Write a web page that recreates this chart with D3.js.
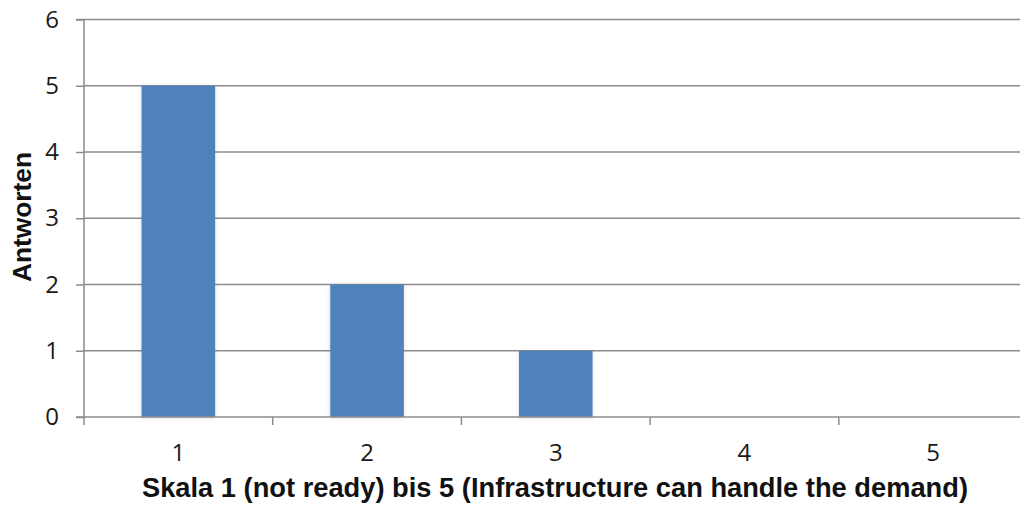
<!DOCTYPE html>
<html>
<head>
<meta charset="utf-8">
<script src="https://cdn.jsdelivr.net/npm/d3@7"></script>
<style>
  body { margin: 0; background: #fff; }
  svg { display: block; }
</style>
</head>
<body>
<div id="chart"></div>
<script>
const categories = ['1', '2', '3', '4', '5'];
const answers = [5, 2, 1, 0, 0];
const yTicks = [0, 1, 2, 3, 4, 5, 6];

const width = 1020, height = 510;
const margin = { left: 84, top: 19.5, right: -7.5, bottom: 93 };
const innerW = width - margin.left - margin.right;
const innerH = height - margin.top - margin.bottom;

const axisColor = '#8c8c8c';
const labelFont = '"Open Sans", "Noto Sans", sans-serif';
const titleFont = '"Liberation Sans", Arial, sans-serif';

const svg = d3.select('#chart').append('svg')
    .attr('width', width)
    .attr('height', height);

// faint shadow round the bars, like the original
const defs = svg.append('defs');
const soft = defs.append('filter').attr('id', 'soft')
    .attr('x', '-10%').attr('y', '-5%').attr('width', '120%').attr('height', '110%');
soft.append('feGaussianBlur').attr('in', 'SourceAlpha').attr('stdDeviation', 2);
soft.append('feOffset').attr('dx', 0).attr('dy', 1).attr('result', 'b');
soft.append('feComponentTransfer').append('feFuncA').attr('type', 'linear').attr('slope', 0.15);
const merge = soft.append('feMerge');
merge.append('feMergeNode');
merge.append('feMergeNode').attr('in', 'SourceGraphic');

const g = svg.append('g').attr('transform', `translate(${margin.left},${margin.top})`);

const xScale = d3.scaleBand().domain(categories).range([0, innerW]).paddingInner(0.61).paddingOuter(0.305);
const xEdges = d3.scaleLinear().domain([0, categories.length]).range([0, innerW]);
const yScale = d3.scaleLinear().domain([0, 6]).range([innerH, 0]);

// gridlines
g.append('g').attr('class', 'grid')
    .selectAll('line')
    .data(yTicks.filter(d => d > 0))
    .enter().append('line')
    .attr('x1', 0).attr('x2', innerW + 20)
    .attr('y1', d => yScale(d)).attr('y2', d => yScale(d))
    .attr('stroke', axisColor).attr('stroke-width', 1.5);

// bars
g.selectAll('.bar')
    .data(answers)
    .enter().append('rect')
    .attr('class', 'bar')
    .attr('x', (d, i) => xScale(categories[i]))
    .attr('y', d => yScale(d))
    .attr('width', xScale.bandwidth())
    .attr('height', d => innerH - yScale(d))
    .attr('fill', '#4f81bd')
    .attr('filter', 'url(#soft)');

// y axis
const yAxis = d3.axisLeft(yScale)
    .tickValues(yTicks)
    .tickFormat(d3.format('d'))
    .tickSize(8)
    .tickPadding(17);
const ya = g.append('g').attr('class', 'y-axis').call(yAxis);
ya.select('.domain')
    .attr('stroke', axisColor).attr('stroke-width', 1.5)
    .attr('d', `M-8,${yScale(6)}H0V${innerH}H-8`);
ya.selectAll('.tick line').attr('stroke', axisColor).attr('stroke-width', 1.5);
ya.selectAll('.tick text')
    .attr('font-family', labelFont)
    .attr('font-size', 24).attr('fill', '#1a1a1a');

// x axis
const xa = g.append('g').attr('class', 'x-axis').attr('transform', `translate(0,${innerH})`);
xa.append('line')
    .attr('x1', 0).attr('x2', innerW + 20).attr('y1', 0).attr('y2', 0)
    .attr('stroke', axisColor).attr('stroke-width', 1.5);
xa.selectAll('.edge')
    .data(d3.range(categories.length + 1))
    .enter().append('line')
    .attr('class', 'edge')
    .attr('x1', d => xEdges(d)).attr('x2', d => xEdges(d))
    .attr('y1', 0).attr('y2', 8)
    .attr('stroke', axisColor).attr('stroke-width', 1.5);
xa.selectAll('.label')
    .data(categories)
    .enter().append('text')
    .attr('class', 'label')
    .attr('x', d => xScale(d) + xScale.bandwidth() / 2)
    .attr('y', 43.5)
    .attr('text-anchor', 'middle')
    .attr('font-family', labelFont)
    .attr('font-size', 24).attr('fill', '#1a1a1a')
    .text(d => d);

// axis titles
svg.append('text')
    .attr('x', 555).attr('y', 497)
    .attr('text-anchor', 'middle')
    .attr('font-family', titleFont)
    .attr('font-weight', 'bold').attr('font-size', 27).attr('fill', '#111')
    .attr('textLength', 826).attr('lengthAdjust', 'spacingAndGlyphs')
    .text('Skala 1 (not ready) bis 5 (Infrastructure can handle the demand)');

svg.append('text')
    .attr('transform', 'translate(31,217) rotate(-90)')
    .attr('text-anchor', 'middle')
    .attr('font-family', titleFont)
    .attr('font-weight', 'bold').attr('font-size', 25).attr('fill', '#111')
    .attr('textLength', 130).attr('lengthAdjust', 'spacingAndGlyphs')
    .text('Antworten');
</script>
</body>
</html>
